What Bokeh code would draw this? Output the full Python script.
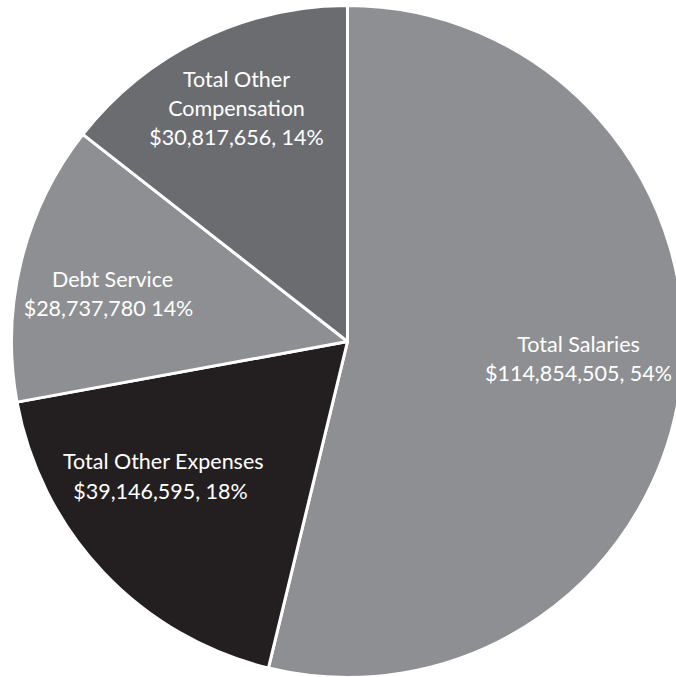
import math
from bokeh.plotting import figure
from bokeh.models import ColumnDataSource, Range1d
from bokeh.core.properties import value
from bokeh.embed import file_html
from bokeh.resources import INLINE

categories = ["Total Salaries", "Total Other Expenses", "Debt Service", "Total Other Compensation"]
amounts = [114854505, 39146595, 28737780, 30817656]
percent_labels = ["54%", "18%", "14%", "14%"]
colors = ["#8e8f92", "#231f20", "#8e8f92", "#6b6c70"]

W, H = 676, 677
p = figure(width=W, height=H, output_backend="svg", toolbar_location=None,
           x_range=Range1d(0, W), y_range=Range1d(0, H), min_border=0)
p.axis.visible = False
p.grid.visible = False
p.outline_line_color = None
p.background_fill_color = "white"
p.border_fill_color = "white"

cx, cy, r = 347, H - 341, 336
total = sum(amounts)
starts, ends = [], []
a = math.pi / 2
for v in amounts:
    b = a - 2 * math.pi * v / total
    starts.append(b)
    ends.append(a)
    a = b

src = ColumnDataSource(dict(start=starts, end=ends, color=colors, cat=categories))
p.wedge(x=cx, y=cy, radius=r, start_angle="start", end_angle="end", color="color",
        line_color="white", line_width=3, source=src)

# label lines (image coords -> plot coords)
label_lines = [
    [("Total Salaries", 578, 343), ("$114,854,505, 54%", 578, 372)],
    [("Total Other Expenses", 163, 460), ("$39,146,595, 18%", 160, 490)],
    [("Debt Service", 112, 278), ("$28,737,780 14%", 108, 307)],
    [("Total Other", 236, 78), ("Compensation", 236, 107), ("$30,817,656, 14%", 236, 136)],
]
tx, ty, tt = [], [], []
for lines in label_lines:
    for t, X, Y in lines:
        tx.append(X)
        ty.append(H - Y)
        tt.append(t)
p.text(x=tx, y=ty, text=tt, text_color="white", text_align="center", text_baseline="middle",
       text_font=value("Lato"), text_font_size="21.5px")

open("out.html", "w").write(file_html(p, INLINE))
